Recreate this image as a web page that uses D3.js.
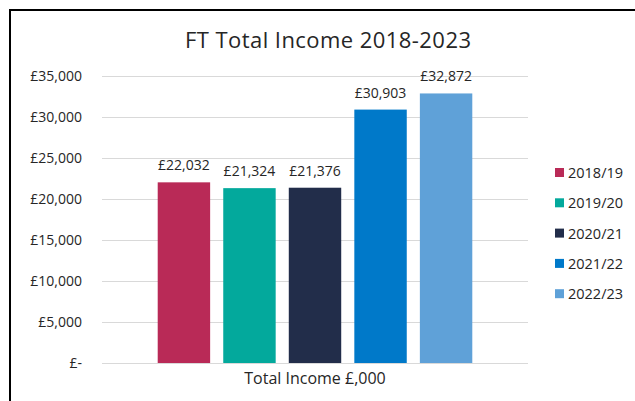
<!DOCTYPE html>
<html>
<head>
<meta charset="utf-8">
<script src="https://cdn.jsdelivr.net/npm/d3@7"></script>
<style>
  body { margin: 0; background: #fff; }
  svg { display: block; }
</style>
</head>
<body>
<script>
const categories = ["Total Income £,000"];
const series = ["2018/19", "2019/20", "2020/21", "2021/22", "2022/23"];
const values = [22032, 21324, 21376, 30903, 32872];
const seriesColors = ["#B92A57", "#03A99C", "#222D4A", "#0079C9", "#5FA1D8"];
const yTicks = [0, 5000, 10000, 15000, 20000, 25000, 30000, 35000];

const width = 635;
const height = 401;
const margin = { top: 76, right: 107, bottom: 38, left: 102 };
const font = "'Open Sans', 'Noto Sans', sans-serif";

const svg = d3.select("body")
  .append("svg")
  .attr("width", width)
  .attr("height", height)
  .style("font-family", font);

// outer frame (right and bottom edges fall outside the picture)
svg.append("rect")
  .attr("x", 10)
  .attr("y", 10)
  .attr("width", width + 20)
  .attr("height", height + 20)
  .attr("fill", "#fff")
  .attr("stroke", "#000")
  .attr("stroke-width", 2);

const y = d3.scaleLinear()
  .domain([0, 35000])
  .range([height - margin.bottom, margin.top]);

const x0 = d3.scaleBand()
  .domain(categories)
  .range([margin.left, width - margin.right])
  .paddingInner(0)
  .paddingOuter(0.15);

const x1 = d3.scaleBand()
  .domain(series)
  .range([0, x0.bandwidth()])
  .paddingInner(0.2)
  .paddingOuter(0.1);

const color = d3.scaleOrdinal().domain(series).range(seriesColors);

// gridlines + y labels
const yAxis = d3.axisLeft(y)
  .tickValues(yTicks)
  .tickSize(-(width - margin.left - margin.right))
  .tickPadding(20)
  .tickFormat((d) => (d === 0 ? "£-" : "£" + d3.format(",")(d)));

const gy = svg.append("g")
  .attr("transform", `translate(${margin.left},0)`)
  .call(yAxis);

gy.select(".domain").remove();
gy.selectAll(".tick line").attr("stroke", "#D9D9D9").attr("stroke-width", 1);
gy.selectAll(".tick text")
  .attr("fill", "#262626")
  .style("font-size", "14px")
  .style("font-family", font);

// bars
const groups = svg.append("g")
  .selectAll("g")
  .data(categories)
  .join("g")
  .attr("transform", (d) => `translate(${x0(d)},0)`);

const rows = series.map((s, i) => ({ key: s, value: values[i] }));

groups.selectAll("rect")
  .data(rows)
  .join("rect")
  .attr("x", (d) => x1(d.key))
  .attr("y", (d) => y(d.value))
  .attr("width", x1.bandwidth())
  .attr("height", (d) => y(0) - y(d.value))
  .attr("fill", (d) => color(d.key));

// value labels
groups.selectAll("text.val")
  .data(rows)
  .join("text")
  .attr("class", "val")
  .attr("x", (d) => x1(d.key) + x1.bandwidth() / 2)
  .attr("y", (d) => y(d.value) - 12)
  .attr("text-anchor", "middle")
  .attr("fill", "#262626")
  .style("font-size", "14px")
  .text((d) => "£" + d3.format(",")(d.value));

// category label
svg.append("g")
  .selectAll("text")
  .data(categories)
  .join("text")
  .attr("x", (d) => x0(d) + x0.bandwidth() / 2)
  .attr("y", height - 17)
  .attr("text-anchor", "middle")
  .attr("fill", "#262626")
  .style("font-size", "16px")
  .text((d) => d);

// title
svg.append("text")
  .attr("x", 328)
  .attr("y", 48)
  .attr("text-anchor", "middle")
  .attr("fill", "#262626")
  .style("font-size", "22px")
  .attr("textLength", 286)
  .attr("lengthAdjust", "spacing")
  .text("FT Total Income 2018-2023");

// legend
const legend = svg.append("g")
  .selectAll("g")
  .data(series)
  .join("g")
  .attr("transform", (d, i) => `translate(555,${173 + i * 30.3})`);

legend.append("rect")
  .attr("x", 0)
  .attr("y", -5)
  .attr("width", 9)
  .attr("height", 9)
  .attr("fill", (d) => color(d));

legend.append("text")
  .attr("x", 13)
  .attr("y", 0)
  .attr("dy", "0.35em")
  .attr("fill", "#262626")
  .style("font-size", "14.5px")
  .text((d) => d);
</script>
</body>
</html>
